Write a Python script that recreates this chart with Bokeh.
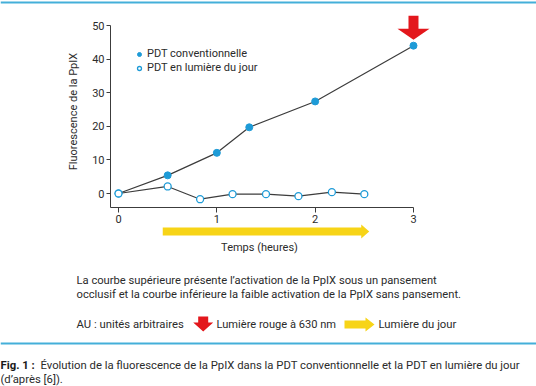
import math
from bokeh.plotting import figure
from bokeh.models import (Legend, LegendItem, Label, FixedTicker, Range1d)
from bokeh.embed import file_html
from bokeh.resources import INLINE

# ---- data ----
hours_conv = [0, 0.5, 1.0, 1.33, 2.0, 3.0]
ppix_conv = [0, 5.4, 12.1, 19.7, 27.4, 44.0]
hours_day = [0, 0.5, 0.83, 1.16, 1.5, 1.83, 2.17, 2.5]
ppix_day = [0, 2.1, -1.7, -0.2, -0.2, -0.8, 0.4, -0.2]
x_ticks = [0, 1, 2, 3]
y_ticks = [0, 10, 20, 30, 40, 50]
daylight_period = [0.45, 2.55]   # hours lit by daylight (yellow arrow)
red_light_time = 3               # hour of the 630 nm illumination (red arrow)

series_names = ["PDT conventionnelle", "PDT en lumière du jour"]
y_label = "Fluorescence de la PpIX"
x_label = "Temps (heures)"
note_lines = ["La courbe supérieure présente l\u2019activation de la PpIX sous un pansement",
              "occlusif et la courbe inférieure la faible activation de la PpIX sans pansement."]
key_texts = ["AU : unités arbitraires", "Lumière rouge à 630 nm", "Lumière du jour"]
caption_head = "Fig. 1 :"
caption_lines = ["Évolution de la fluorescence de la PpIX dans la PDT conventionnelle et la PDT en lumière du jour",
                 "(d\u2019après [6])."]

# ---- style ----
FONT = "Roboto"
TXT = "#2b2b2b"
BLUE = "#1e9bd7"
LINE = "#3c3c3c"
RED = "#e3171c"
YELLOW = "#f7d417"
RULE = "#44afd9"

W, H = 536, 386
OX, OY = 118, 193            # page pixel of (0 h, 0 AU)
PPX, PPY = 98.33, 3.36       # pixels per hour / per unit


def DX(px):  # page x -> hours
    return (px - OX) / PPX


def DY(py):  # page y -> AU
    return (OY - py) / PPY


p = figure(width=W, height=H, x_range=Range1d(DX(0), DX(W)), y_range=Range1d(DY(H), DY(0)),
           output_backend="svg", toolbar_location=None, title=None, min_border=0)
p.outline_line_color = None
p.grid.visible = False
p.background_fill_color = "white"
p.border_fill_color = "white"

X0, Y0 = DX(110), DY(207)    # where the axes cross

for ax in (p.xaxis, p.yaxis):
    ax.axis_line_color = LINE
    ax.axis_line_width = 1
    ax.major_tick_line_color = LINE
    ax.major_tick_in = 0
    ax.minor_tick_line_color = None
    ax.major_label_text_font = FONT
    ax.major_label_text_font_size = "11px"
    ax.major_label_text_color = TXT
    ax.major_label_standoff = 2

p.xaxis.ticker = FixedTicker(ticks=x_ticks)
p.xaxis.bounds = (X0, x_ticks[-1])
p.xaxis.fixed_location = Y0
p.xaxis.major_tick_out = 5
p.yaxis.ticker = FixedTicker(ticks=y_ticks)
p.yaxis.bounds = (Y0, y_ticks[-1])
p.yaxis.fixed_location = X0
p.yaxis.major_tick_out = 4

p.line(hours_conv, ppix_conv, line_color=LINE, line_width=1.2)
p.line(hours_day, ppix_day, line_color=LINE, line_width=1.2)
r1 = p.scatter(hours_conv, ppix_conv, size=7, fill_color=BLUE, line_color=BLUE)
r2 = p.scatter(hours_day, ppix_day, size=7, fill_color="white", line_color=BLUE, line_width=1.3)

legend = Legend(items=[LegendItem(label=series_names[0], renderers=[r1]),
                       LegendItem(label=series_names[1], renderers=[r2])],
                location=(134, H - 74), orientation="vertical",
                padding=0, margin=0, spacing=1, glyph_width=10, glyph_height=12,
                label_height=12, label_standoff=3, border_line_color=None,
                background_fill_alpha=0, label_text_font=FONT, label_text_font_size="11px",
                label_text_color=TXT)
p.add_layout(legend)

# red arrow above the last conventional point
tx = red_light_time
ty = ppix_conv[-1] + 6 / PPY
hx = [tx, tx - 16 / PPX, tx - 5 / PPX, tx - 5 / PPX, tx + 5 / PPX, tx + 5 / PPX, tx + 16 / PPX]
hy = [ty, ty + 11 / PPY, ty + 11 / PPY, ty + 24 / PPY, ty + 24 / PPY, ty + 11 / PPY, ty + 11 / PPY]
p.patch(hx, hy, fill_color=RED, line_color=None)

# yellow daylight arrow under the axis
a0, a1 = daylight_period
hb = a1 - 8 / PPX
p.patch([a0, hb, hb, a1, hb, hb, a0],
        [DY(227), DY(227), DY(224), DY(231), DY(238), DY(235), DY(235)],
        fill_color=YELLOW, line_color=None)


def text(px, py, s, align="left", size="11px", style="normal", angle=0.0, color=TXT):
    p.add_layout(Label(x=DX(px), y=DY(py), text=s, angle=angle,
                       text_font=FONT, text_font_size=size, text_color=color, text_font_style=style,
                       text_align=align, text_baseline="middle"))


text(73, 111, y_label, align="center", angle=math.pi / 2)
text(259, 247, x_label, align="center")
text(76, 280, note_lines[0], size="11.2px")
text(76, 294, note_lines[1], size="11.2px")
text(76, 324, key_texts[0], size="11.3px")
text(216, 324, key_texts[1], size="11.1px")
text(378, 324, key_texts[2], size="11.3px")

# small key arrows
cx = 202.7
p.patch([DX(cx - 5), DX(cx + 5), DX(cx + 5), DX(cx + 10), DX(cx), DX(cx - 10), DX(cx - 5)],
        [DY(316), DY(316), DY(322), DY(322), DY(331), DY(322), DY(322)],
        fill_color=RED, line_color=None)
p.patch([DX(344), DX(365), DX(365), DX(374), DX(365), DX(365), DX(344)],
        [DY(320), DY(320), DY(317), DY(324), DY(331), DY(328), DY(328)],
        fill_color=YELLOW, line_color=None)

# blue rules and caption
p.patch([DX(0), DX(W), DX(W), DX(0)], [DY(342), DY(342), DY(344), DY(344)],
        fill_color=RULE, line_color=None)
p.patch([DX(0), DX(W), DX(W), DX(0)], [DY(1), DY(1), DY(3), DY(3)],
        fill_color=RULE, line_color=None)
text(0, 365, caption_head, style="bold", color="#1a1a1a", size="11.3px")
text(40, 365, caption_lines[0], size="11.3px")
text(0, 379, caption_lines[1], size="11.3px")

open("out.html", "w").write(file_html(p, INLINE))
